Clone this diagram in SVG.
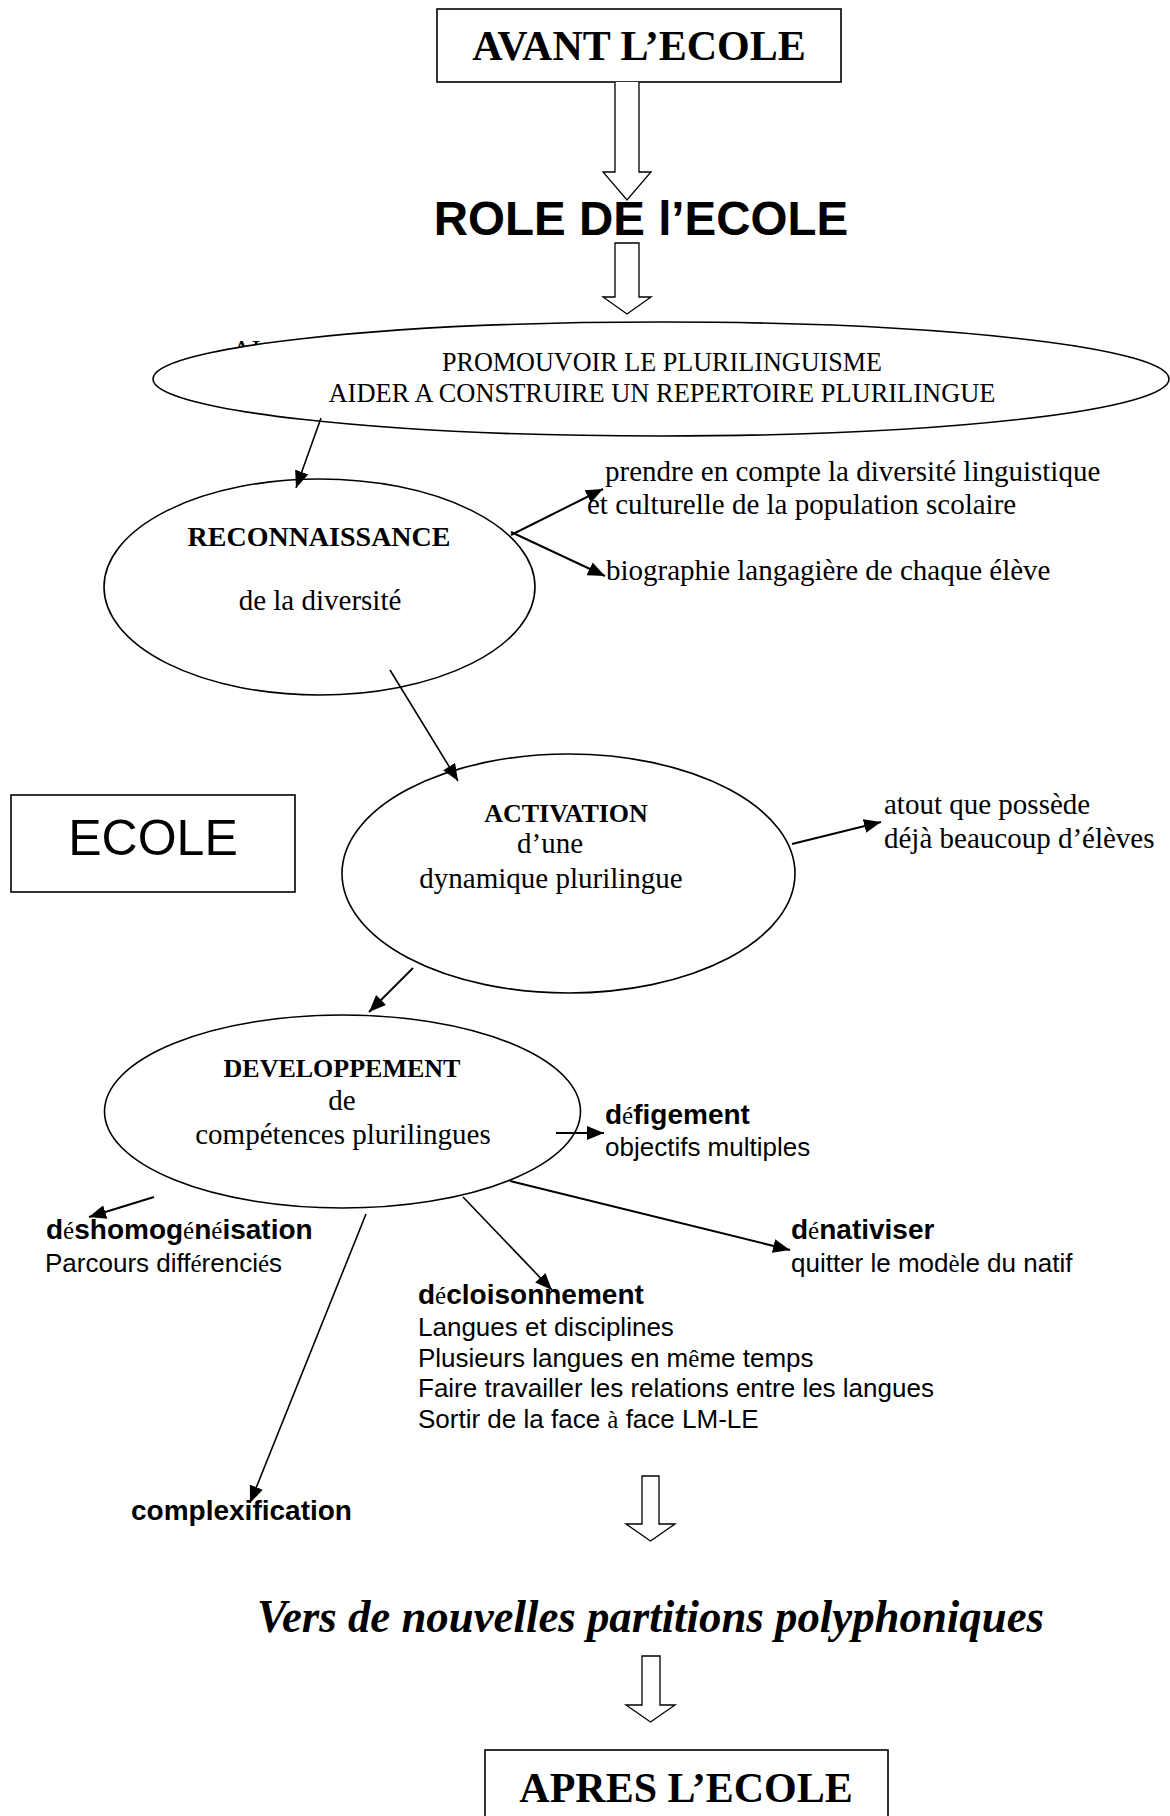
<svg xmlns="http://www.w3.org/2000/svg" width="1170" height="1816" viewBox="0 0 1170 1816">
<style>
.bg{fill:#fff}
.box{fill:#fff;stroke:#000;stroke-width:1.6}
.node{fill:#fff;stroke:#000;stroke-width:1.6}
.hollow{fill:#fff;stroke:#000;stroke-width:1.3}
.conn{stroke:#000;stroke-width:2;fill:none;marker-end:url(#ah)}
.thin{stroke-width:1.6}
.serif{font-family:"Liberation Serif","Times New Roman",serif;fill:#000}
.sans{font-family:"Liberation Sans",Arial,sans-serif;fill:#000}
.b{font-weight:bold}
.body{font-size:29px}
.sb{font-size:28px}
.sr{font-size:26px}
.acc{font-family:"Liberation Serif","Times New Roman",serif;font-weight:normal;font-size:25px}
</style>
<defs>
<marker id="ah" markerUnits="userSpaceOnUse" markerWidth="18" markerHeight="14" refX="17" refY="7" orient="auto">
<path d="M0,0 L17,7 L0,14 z" fill="#000"/>
</marker>
</defs>
<rect class="bg" x="0" y="0" width="1170" height="1816"/>

<g id="avant">
<rect class="box" x="437" y="9" width="404" height="73"/>
<text class="serif b" x="639" y="60" font-size="42" text-anchor="middle">AVANT L’ECOLE</text>
</g>

<g id="role">
<text class="sans b" x="641" y="235" font-size="47.5" text-anchor="middle">ROLE DE l’ECOLE</text>
</g>

<g id="promouvoir">
<text class="serif" x="232" y="359" font-size="27">AI</text>
<ellipse class="node" cx="661" cy="379" rx="508" ry="57"/>
<text class="serif" x="662" y="371" font-size="27" text-anchor="middle" textLength="440" lengthAdjust="spacingAndGlyphs">PROMOUVOIR LE PLURILINGUISME</text>
<text class="serif" x="662" y="402" font-size="27" text-anchor="middle" textLength="667" lengthAdjust="spacingAndGlyphs">AIDER A CONSTRUIRE UN REPERTOIRE PLURILINGUE</text>
</g>

<g id="reconnaissance">
<ellipse class="node" cx="319.5" cy="587" rx="215.5" ry="108"/>
<text class="serif b" x="319" y="546" font-size="28" text-anchor="middle">RECONNAISSANCE</text>
<text class="serif body" x="320" y="610" text-anchor="middle">de la diversité</text>
</g>

<g id="activation">
<ellipse class="node" cx="568.5" cy="873.5" rx="226.5" ry="119.5"/>
<text class="serif b" x="566" y="822" font-size="26" text-anchor="middle">ACTIVATION</text>
<text class="serif body" x="517" y="853">d’une</text>
<text class="serif body" x="551" y="888" text-anchor="middle">dynamique plurilingue</text>
</g>

<g id="developpement">
<ellipse class="node" cx="342.5" cy="1111.5" rx="238" ry="96.5"/>
<text class="serif b" x="342" y="1077" font-size="26" text-anchor="middle">DEVELOPPEMENT</text>
<text class="serif body" x="342" y="1110" text-anchor="middle">de</text>
<text class="serif body" x="343" y="1144" text-anchor="middle">compétences plurilingues</text>
</g>

<g id="ecole">
<rect class="box" x="11" y="795" width="284" height="97"/>
<text class="sans" x="153" y="855" font-size="50" text-anchor="middle">ECOLE</text>
</g>

<g id="connectors">
<line class="conn thin" x1="321" y1="418" x2="296" y2="488"/>
<line class="conn" x1="511" y1="535" x2="603" y2="489"/>
<line class="conn" x1="511" y1="532" x2="605" y2="576"/>
<line class="conn thin" x1="390" y1="670" x2="458" y2="781"/>
<line class="conn" x1="792" y1="844" x2="881" y2="822"/>
<line class="conn" x1="413" y1="968" x2="369" y2="1012"/>
<line class="conn" x1="556" y1="1133" x2="604" y2="1133"/>
<line class="conn" x1="154" y1="1197" x2="89" y2="1217"/>
<line class="conn" x1="510" y1="1181" x2="790" y2="1250"/>
<line class="conn thin" x1="463" y1="1197" x2="552" y2="1290"/>
<line class="conn thin" x1="366" y1="1214" x2="250" y2="1503"/>
<path class="hollow" d="M615,82 L615,172 L603,172 L627,200 L651,172 L639,172 L639,82"/>
<path class="hollow" d="M615,243 L615,297 L603,297 L627,314 L651,297 L639,297 L639,243 Z"/>
<path class="hollow" d="M642,1476 L642,1524 L626,1524 L650.5,1541 L675,1524 L659,1524 L659,1476 Z"/>
<path class="hollow" d="M642,1656 L642,1705 L626,1705 L650.5,1722 L675,1705 L660,1705 L660,1656 Z"/>
</g>

<g id="prendre">
<text class="serif body" x="605" y="481">prendre en compte la diversité linguistique</text>
<text class="serif body" x="587" y="514">et culturelle de la population scolaire</text>
</g>

<g id="biographie">
<text class="serif body" x="606" y="580">biographie langagière de chaque élève</text>
</g>

<g id="atout">
<text class="serif body" x="884" y="814">atout que possède</text>
<text class="serif body" x="884" y="848">déjà beaucoup d’élèves</text>
</g>

<g id="defigement">
<text class="sans b sb" x="605" y="1124">d<tspan class="acc">é</tspan>figement</text>
<text class="sans sr" x="605" y="1156">objectifs multiples</text>
</g>

<g id="deshomogeneisation">
<text class="sans b sb" x="46" y="1239">d<tspan class="acc">é</tspan>shomog<tspan class="acc">é</tspan>n<tspan class="acc">é</tspan>isation</text>
<text class="sans sr" x="45" y="1272">Parcours diff<tspan class="acc">é</tspan>renci<tspan class="acc">é</tspan>s</text>
</g>

<g id="denativiser">
<text class="sans b sb" x="791" y="1239">d<tspan class="acc">é</tspan>nativiser</text>
<text class="sans sr" x="791" y="1272">quitter le mod<tspan class="acc">è</tspan>le du natif</text>
</g>

<g id="decloisonnement">
<text class="sans b sb" x="418" y="1304">d<tspan class="acc">é</tspan>cloisonnement</text>
<text class="sans sr" x="418" y="1336">Langues et disciplines</text>
<text class="sans sr" x="418" y="1367">Plusieurs langues en m<tspan class="acc">ê</tspan>me temps</text>
<text class="sans sr" x="418" y="1397">Faire travailler les relations entre les langues</text>
<text class="sans sr" x="418" y="1428">Sortir de la face <tspan class="acc">à</tspan> face LM-LE</text>
</g>

<g id="complexification">
<text class="sans b sb" x="131" y="1520">complexification</text>
</g>

<g id="vers">
<text class="serif" x="257" y="1632" font-size="46" font-style="italic" font-weight="bold" textLength="787" lengthAdjust="spacingAndGlyphs">Vers de nouvelles partitions polyphoniques</text>
</g>

<g id="apres">
<rect class="box" x="485" y="1750" width="403" height="80"/>
<text class="serif b" x="686" y="1802" font-size="42" text-anchor="middle">APRES L’ECOLE</text>
</g>
</svg>
